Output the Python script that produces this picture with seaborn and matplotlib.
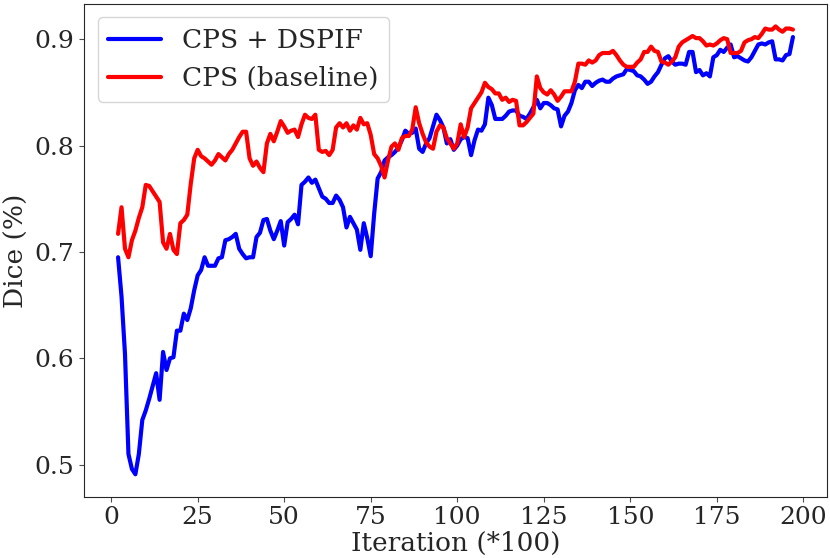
import matplotlib
matplotlib.use("Agg")
import matplotlib.pyplot as plt
import seaborn as sns
import pandas as pd

iterations = list(range(2, 198))

dspif = [
    0.695, 0.658, 0.604, 0.510, 0.496, 0.491, 0.510, 0.542, 0.551, 0.562,
    0.574, 0.586, 0.561, 0.606, 0.589, 0.600, 0.601, 0.626, 0.626, 0.642,
    0.636, 0.647, 0.664, 0.678, 0.683, 0.695, 0.687, 0.687, 0.687, 0.694,
    0.695, 0.711, 0.712, 0.714, 0.717, 0.703, 0.698, 0.694, 0.695, 0.695,
    0.714, 0.718, 0.730, 0.731, 0.720, 0.712, 0.720, 0.729, 0.706, 0.728,
    0.731, 0.735, 0.726, 0.763, 0.766, 0.770, 0.765, 0.768, 0.760, 0.752,
    0.750, 0.746, 0.746, 0.753, 0.749, 0.742, 0.723, 0.733, 0.727, 0.721,
    0.702, 0.727, 0.713, 0.696, 0.736, 0.769, 0.775, 0.786, 0.789, 0.791,
    0.794, 0.798, 0.805, 0.814, 0.811, 0.812, 0.816, 0.797, 0.794, 0.802,
    0.807, 0.818, 0.829, 0.824, 0.817, 0.802, 0.806, 0.796, 0.800, 0.806,
    0.808, 0.807, 0.791, 0.805, 0.815, 0.814, 0.820, 0.845, 0.838, 0.825,
    0.825, 0.825, 0.828, 0.832, 0.833, 0.833, 0.828, 0.827, 0.825, 0.830,
    0.836, 0.843, 0.835, 0.840, 0.840, 0.838, 0.835, 0.834, 0.818, 0.828,
    0.832, 0.840, 0.852, 0.857, 0.854, 0.860, 0.860, 0.856, 0.859, 0.861,
    0.862, 0.860, 0.860, 0.863, 0.865, 0.866, 0.867, 0.872, 0.871, 0.870,
    0.866, 0.865, 0.862, 0.858, 0.860, 0.865, 0.869, 0.876, 0.882, 0.884,
    0.879, 0.876, 0.877, 0.877, 0.876, 0.888, 0.888, 0.869, 0.871, 0.866,
    0.868, 0.865, 0.883, 0.885, 0.890, 0.888, 0.892, 0.895, 0.883, 0.884,
    0.882, 0.880, 0.879, 0.883, 0.889, 0.895, 0.896, 0.895, 0.897, 0.898,
    0.881, 0.881, 0.880, 0.885, 0.886, 0.902,
]

baseline = [
    0.717, 0.742, 0.703, 0.695, 0.711, 0.720, 0.732, 0.742, 0.763, 0.762,
    0.757, 0.752, 0.747, 0.709, 0.703, 0.717, 0.702, 0.698, 0.727, 0.730,
    0.735, 0.764, 0.788, 0.796, 0.790, 0.788, 0.785, 0.782, 0.786, 0.792,
    0.789, 0.786, 0.792, 0.796, 0.802, 0.808, 0.813, 0.813, 0.788, 0.781,
    0.785, 0.779, 0.775, 0.802, 0.811, 0.804, 0.813, 0.823, 0.818, 0.812,
    0.814, 0.815, 0.808, 0.820, 0.829, 0.826, 0.825, 0.829, 0.796, 0.794,
    0.795, 0.791, 0.796, 0.817, 0.821, 0.817, 0.821, 0.814, 0.819, 0.815,
    0.826, 0.820, 0.821, 0.810, 0.792, 0.788, 0.781, 0.770, 0.786, 0.799,
    0.802, 0.796, 0.807, 0.809, 0.809, 0.815, 0.836, 0.821, 0.811, 0.803,
    0.799, 0.797, 0.813, 0.819, 0.817, 0.807, 0.802, 0.797, 0.802, 0.820,
    0.808, 0.817, 0.835, 0.840, 0.845, 0.850, 0.859, 0.855, 0.853, 0.849,
    0.849, 0.843, 0.845, 0.841, 0.843, 0.842, 0.819, 0.819, 0.822, 0.826,
    0.830, 0.865, 0.854, 0.850, 0.848, 0.852, 0.848, 0.842, 0.846, 0.851,
    0.851, 0.851, 0.860, 0.877, 0.877, 0.876, 0.880, 0.878, 0.880, 0.885,
    0.887, 0.887, 0.887, 0.889, 0.885, 0.880, 0.876, 0.874, 0.874, 0.874,
    0.878, 0.881, 0.888, 0.888, 0.893, 0.889, 0.888, 0.879, 0.878, 0.876,
    0.879, 0.883, 0.893, 0.897, 0.899, 0.901, 0.903, 0.901, 0.901, 0.898,
    0.894, 0.895, 0.894, 0.896, 0.899, 0.901, 0.900, 0.887, 0.887, 0.887,
    0.889, 0.897, 0.899, 0.900, 0.902, 0.901, 0.905, 0.910, 0.909, 0.909,
    0.912, 0.909, 0.907, 0.910, 0.910, 0.909,
]

series_names = ["CPS + DSPIF", "CPS (baseline)"]
series_colors = ["blue", "red"]

sns.set_style("ticks")
plt.rcParams["font.family"] = ["DejaVu Serif"]

df = pd.DataFrame({
    "iteration": iterations * 2,
    "dice": dspif + baseline,
    "method": [series_names[0]] * len(iterations) + [series_names[1]] * len(iterations),
})

fig, ax = plt.subplots(figsize=(8.3, 5.58), dpi=100)
fig.subplots_adjust(left=0.1016, right=0.996, top=0.9928, bottom=0.1099)

sns.lineplot(data=df, x="iteration", y="dice", hue="method",
             palette=dict(zip(series_names, series_colors)),
             linewidth=3, ax=ax)

ax.set_xticks([0, 25, 50, 75, 100, 125, 150, 175, 200])
ax.set_yticks([0.5, 0.6, 0.7, 0.8, 0.9])
ax.tick_params(labelsize=18, color="0.3")
ax.set_xlabel("Iteration (*100)", fontsize=19, labelpad=1)
ax.set_ylabel("Dice (%)", fontsize=19, labelpad=4)
for spine in ax.spines.values():
    spine.set_color("0.15")

leg = ax.legend(loc="upper left", fontsize=19)
for line in leg.get_lines():
    line.set_linewidth(3)

fig.savefig("out.png", dpi=100)
